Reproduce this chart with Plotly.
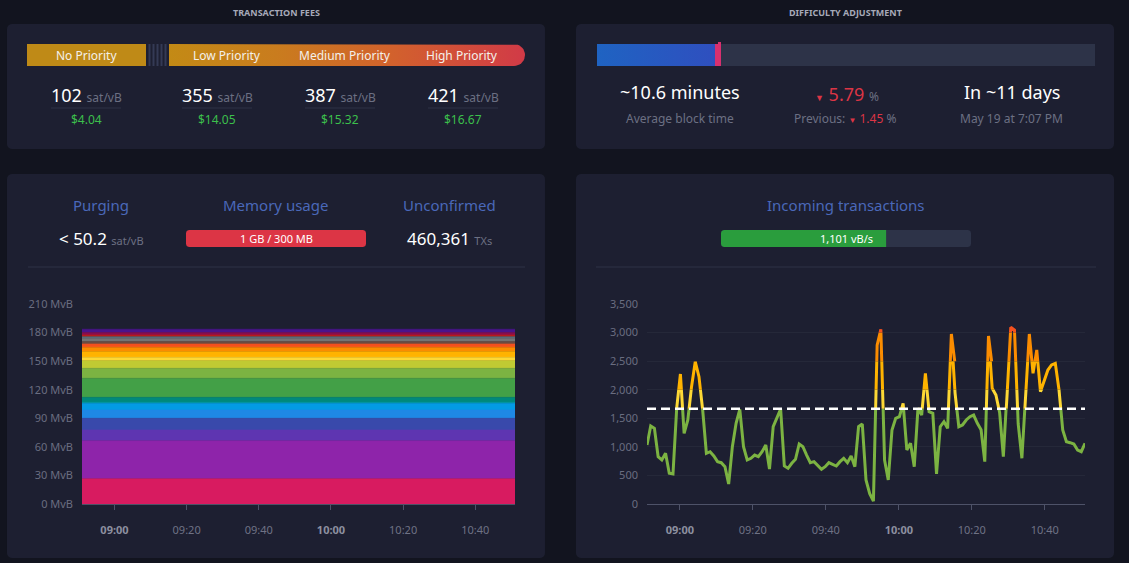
import numpy as np
import pandas as pd
import plotly.graph_objects as go

W, H = 1129, 563

# ---------------- data ----------------
fee_labels = ["No Priority", "Low Priority", "Medium Priority", "High Priority"]
fee_rates = [102, 355, 387, 421]
fee_usd = ["$4.04", "$14.05", "$15.32", "$16.67"]

avg_block_time = "~10.6 minutes"
diff_change = 5.79
prev_change = 1.45
next_adjust = "In ~11 days"
next_adjust_date = "May 19 at 7:07 PM"
epoch_progress = 0.239

purging_rate = 50.2
memory_text = "1 GB / 300 MB"
unconfirmed_txs = 460361
incoming_rate = 1101
incoming_target = 1667

time_start = "2023-05-08 08:51"
time_end = "2023-05-08 10:51"
x_tick_labels = ["09:00", "09:20", "09:40", "10:00", "10:20", "10:40"]
mvb_ticks = [0, 30, 60, 90, 120, 150, 180, 210]
vbs_ticks = [0, 500, 1000, 1500, 2000, 2500, 3000, 3500]

# mempool stacked layers (MvB per fee level)
layer_colors = ["#D81B60", "#8E24AA", "#5E35B1", "#3949AB", "#1E88E5", "#039BE5",
                "#00ACC1", "#00897B", "#43A047", "#7CB342", "#C0CA33", "#FDD835",
                "#FFB300", "#FB8C00", "#F4511E", "#6D4C41", "#757575", "#546E7A",
                "#B71C1C", "#880E4F", "#4A148C"]
layer_mvb = [26.6, 39.9, 11.2, 12.3, 8.7, 7.0, 1.0, 5.3, 20.0, 10.5, 8.0, 3.5,
             6.0, 4.6, 3.4, 2.5, 3.5, 1.7, 1.8, 2.5, 3.5]

# incoming transactions, vB/s
incoming_values = [
    1032, 1365, 1324, 828, 770, 887, 537, 525, 1674, 2275, 1237, 1470, 2053, 2490, 2228,
    1645, 887, 915, 840, 741, 723, 653, 350, 1003, 1412, 1657, 1003, 770, 800,
    857, 828, 915, 1032, 612, 1353, 1499, 1660, 665, 624, 712, 782, 1050, 1003, 857,
    723, 741, 665, 607, 653, 723, 694, 665, 741, 800, 723, 840, 653, 1353, 1400,
    420, 180, 50, 2780, 3057, 770, 420, 1295, 1499, 1528, 1762, 945, 1062, 653, 1674,
    1557, 2287, 1616, 1587, 525, 1353, 1441, 1324, 2975, 1937, 1353, 1383, 1470, 1528,
    1557, 1412, 1300,
    741, 2940, 2024, 1907, 1600, 828, 1900, 3092, 3045, 1400, 800, 1900, 2975, 2287,
    2695, 1966, 2170, 2345, 2433, 2462, 1995, 1295, 1091, 1073, 1050, 945, 915, 1062,
]

# colour pieces of the incoming line
band_edges = [-300, 1667, 2000, 2500, 3000, 3500, 3700]
band_colors = ["#7CB342", "#FDD835", "#FFB300", "#FB8C00", "#F4511E", "#D81B60"]

# ---------------- styling ----------------
FONT = "Noto Sans"
PAGE_BG = "#12141f"
PANEL_BG = "#1d1f31"
GREY = "#6c7083"
TITLE_BLUE = "#4a68b9"
RED = "#dc3545"
GREEN_TXT = "#3cbf4c"
BAR_BG = "#2d3348"
GRID = "#252839"
AXIS = "#4e5268"


def px(x):
    return x / W


def py(y):
    return 1 - y / H


fig = go.Figure()

# ---------- left chart: stacked mempool ----------
t_layers = pd.date_range(time_start, time_end, periods=2)
for c, v in zip(layer_colors, layer_mvb):
    fig.add_trace(go.Scatter(x=t_layers, y=[v, v], stackgroup="mem", mode="lines",
                             line=dict(width=0.6, color=c), fillcolor=c,
                             hoverinfo="skip", showlegend=False, xaxis="x", yaxis="y"))

# ---------- right chart: incoming tx ----------
tx = pd.date_range(time_start, time_end, periods=len(incoming_values))
fig.add_trace(go.Scatter(x=tx, y=incoming_values, mode="lines", line=dict(width=0),
                         opacity=0, hoverinfo="skip", showlegend=False,
                         xaxis="x2", yaxis="y2"))

Y0, Y1 = 504, 304  # pixel rows of the charts' value 0 and top
VMAX = 3500


def dom_incoming(v):
    return py(Y0) + v / VMAX * (py(Y1) - py(Y0))


n_bands = len(band_colors)
for i in range(n_bands):
    fig.add_trace(go.Scatter(x=tx, y=incoming_values, mode="lines",
                             line=dict(color=band_colors[i], width=3),
                             hoverinfo="skip", showlegend=False,
                             xaxis="x2", yaxis=f"y{3 + i}"))

CANVAS_Y = f"y{3 + n_bands}"
CANVAS_YAX = f"yaxis{3 + n_bands}"


def canvas_poly(xs, ys, color=None, gradient=None):
    kw = dict(x=xs, y=ys, mode="lines", fill="toself", line=dict(width=0),
              hoverinfo="skip", showlegend=False, xaxis="x3", yaxis=CANVAS_Y)
    if gradient is not None:
        kw["fillgradient"] = dict(type="horizontal", colorscale=gradient)
        kw["fillcolor"] = gradient[0][1]
    else:
        kw["fillcolor"] = color
    fig.add_trace(go.Scatter(**kw))


def rrect(x0, y0, x1, y1, rl=0.0, rr=0.0, n=10):
    pts = []

    def arc(cx, cy, r, a0, a1):
        for a in np.linspace(a0, a1, n):
            pts.append((cx + r * np.cos(a), cy + r * np.sin(a)))

    arc(x0 + rl, y0 + rl, rl, np.pi, 1.5 * np.pi)
    arc(x1 - rr, y0 + rr, rr, 1.5 * np.pi, 2 * np.pi)
    arc(x1 - rr, y1 - rr, rr, 0, 0.5 * np.pi)
    arc(x0 + rl, y1 - rl, rl, 0.5 * np.pi, np.pi)
    pts.append(pts[0])
    return [p[0] for p in pts], [p[1] for p in pts]


shapes = []
annotations = []


def panel_path(x0, y0, x1, y1, r=5):
    xs, ys = rrect(x0, y0, x1, y1, r, r, n=6)
    parts = [f"{px(a):.6f},{py(b):.6f}" for a, b in zip(xs, ys)]
    return "M " + " L ".join(parts) + " Z"


# panels (rounded cards)
for (x0, y0, x1, y1) in [(7, 24, 545, 149), (576, 24, 1114, 149),
                         (7, 174, 545, 558), (576, 174, 1114, 558)]:
    shapes.append(dict(type="path", xref="paper", yref="paper",
                       path=panel_path(x0, y0, x1, y1), fillcolor=PANEL_BG,
                       line=dict(width=0), layer="below"))


def ann(x, y, text, size=12, color="#ffffff", xanchor="center"):
    annotations.append(dict(x=px(x), y=py(y), xref="paper", yref="paper", text=text,
                            showarrow=False, xanchor=xanchor, yanchor="middle",
                            font=dict(family=FONT, size=size, color=color)))


def hline(x0, x1, y, color="#2e3247", width=1):
    shapes.append(dict(type="line", xref="paper", yref="paper", x0=px(x0), x1=px(x1),
                       y0=py(y), y1=py(y), line=dict(color=color, width=width)))


# ---------- top-left: transaction fees ----------
ann(276, 12, "<b>TRANSACTION FEES</b>", 9, "#a6a9b8")
xs, ys = rrect(27, 44, 146, 66)
canvas_poly(xs, ys, color="#bf8a17")
for sx in [149.5, 153.5, 157.5, 161.5, 165.5]:
    xs, ys = rrect(sx - 1, 44, sx + 1, 66)
    canvas_poly(xs, ys, color="#343a55")
xs, ys = rrect(169, 44, 525, 66, 0, 11)
canvas_poly(xs, ys, gradient=[[0, "#c38a15"], [0.3, "#c97c1e"], [0.62, "#d2622c"],
                              [1, "#d13a47"]])
fee_centers = [86, 217, 340, 463]
label_centers = [86, 227, 345, 462]
for lx, lab in zip(label_centers, fee_labels):
    ann(lx, 55, lab, 12, "#f4f0ea")
for cx, rate, usd in zip(fee_centers, fee_rates, fee_usd):
    ann(cx, 95, f"{rate} <span style='font-size:12px;color:{GREY}'>sat/vB</span>", 18)
    hline(cx - 35, cx + 35, 108)
    ann(cx, 120, usd, 12, GREEN_TXT)

# ---------- top-right: difficulty ----------
ann(846, 12, "<b>DIFFICULTY ADJUSTMENT</b>", 9, "#a6a9b8")
bx0, bx1 = 597, 1095
xs, ys = rrect(bx0, 44, bx1, 66)
canvas_poly(xs, ys, color=BAR_BG)
bprog = bx0 + epoch_progress * (bx1 - bx0)
xs, ys = rrect(bx0, 44, bprog, 66)
canvas_poly(xs, ys, gradient=[[0, "#1f63c2"], [1, "#2f4fbf"]])
xs, ys = rrect(bprog - 1, 44, bprog + 5, 66)
canvas_poly(xs, ys, color="#d8306f")
xs, ys = rrect(bprog + 2, 42, bprog + 5, 46)
canvas_poly(xs, ys, color="#d8306f")
ann(680, 92, avg_block_time, 18)
ann(680, 118, "Average block time", 12, GREY)
ann(847, 94, f"<span style='font-size:9px'>▼</span> {diff_change:.2f} "
             f"<span style='font-size:12px;color:{GREY}'>%</span>", 18, RED)
ann(845, 118, f"Previous: <span style='color:{RED}'><span style='font-size:8px'>▼</span> "
              f"{prev_change:.2f}</span> %", 12, GREY)
ann(1012, 92, next_adjust, 18)
ann(1012, 118, next_adjust_date, 12, GREY)

# ---------- bottom-left header ----------
ann(101, 205, "Purging", 15, TITLE_BLUE)
ann(275, 205, "Memory usage", 15, TITLE_BLUE)
ann(449, 205, "Unconfirmed", 15, TITLE_BLUE)
ann(102, 239, f"&lt; {purging_rate} <span style='font-size:11px;color:{GREY}'>sat/vB</span>", 17)
xs, ys = rrect(186, 230, 366, 247, 3, 3)
canvas_poly(xs, ys, color=RED)
ann(276, 239, memory_text, 11)
ann(450, 239, f"{unconfirmed_txs:,} <span style='font-size:11px;color:{GREY}'>TXs</span>", 17)
hline(28, 525, 267)

# ---------- bottom-right header ----------
ann(846, 205, "Incoming transactions", 15, TITLE_BLUE)
ix0, ix1 = 721, 971
xs, ys = rrect(ix0, 230, ix1, 247, 3, 3)
canvas_poly(xs, ys, color=BAR_BG)
ig = ix0 + min(incoming_rate / incoming_target, 1) * (ix1 - ix0)
xs, ys = rrect(ix0, 230, ig, 247, 3, 0)
canvas_poly(xs, ys, color="#2a9d3d")
ann(846, 239, f"{incoming_rate:,} vB/s", 11)
hline(596, 1096, 267)

# dashed target line on incoming chart
shapes.append(dict(type="line", xref="x2", yref="y2", x0=tx[0], x1=tx[-1],
                   y0=incoming_target, y1=incoming_target, layer="above",
                   line=dict(color="#ffffff", width=2.5, dash="9px,5px")))

# ---------- axes ----------
tick_times = [pd.Timestamp(f"2023-05-08 {t}") for t in x_tick_labels]
tick_text = [f"<b><span style='color:#8d90a0'>{t}</span></b>" if t.endswith(":00") else t
             for t in x_tick_labels]

xcommon = dict(type="date", showgrid=False, zeroline=False, showline=True,
               linecolor=AXIS, linewidth=1, ticks="outside", ticklen=5, tickcolor=AXIS,
               tickvals=tick_times, ticktext=tick_text, ticklabelstandoff=11,
               tickfont=dict(family=FONT, size=11, color="#6f7285"), fixedrange=True,
               automargin=False,
               range=[pd.Timestamp(time_start), pd.Timestamp(time_end)])
ycommon = dict(showgrid=True, gridcolor=GRID, gridwidth=1, zeroline=False,
               showline=False, ticks="", ticklabelstandoff=8, automargin=False,
               tickfont=dict(family=FONT, size=11, color="#6a6d80"), fixedrange=True)
hidden = dict(visible=False, showticklabels=False, showgrid=False, zeroline=False,
              automargin=False, fixedrange=True)

layout = dict(
    width=W, height=H, autosize=False,
    margin=dict(l=0, r=0, t=0, b=0, pad=0, autoexpand=False),
    paper_bgcolor=PAGE_BG, plot_bgcolor="rgba(0,0,0,0)",
    showlegend=False, shapes=shapes, annotations=annotations,
    xaxis=dict(domain=[px(82), px(515)], anchor="y", **xcommon),
    yaxis=dict(domain=[py(Y0), py(Y1)], anchor="x", range=[0, 210],
               tickvals=mvb_ticks, ticktext=[f"{v} MvB" for v in mvb_ticks], **ycommon),
    xaxis2=dict(domain=[px(647), px(1085)], anchor="y2", **xcommon),
    yaxis2=dict(domain=[py(Y0), py(Y1)], anchor="x2", range=[0, VMAX],
                tickvals=vbs_ticks, tickformat=",", **ycommon),
    xaxis3=dict(domain=[0, 1], range=[0, W], anchor=CANVAS_Y, **hidden),
)
layout[CANVAS_YAX] = dict(domain=[0, 1], range=[H, 0], anchor="x3", **hidden)
for i in range(n_bands):
    lo, hi = band_edges[i], band_edges[i + 1]
    layout[f"yaxis{3 + i}"] = dict(domain=[dom_incoming(lo), dom_incoming(hi)],
                                   range=[lo, hi], anchor="x2", **hidden)

fig.update_layout(**layout)

page_fix = (
    "document.documentElement.style.margin='0';"
    "document.body.style.margin='0';document.body.style.padding='0';"
    "document.body.style.overflow='hidden';"
    f"document.body.style.background='{PAGE_BG}';"
)
fig.write_html("out.html", config={"displayModeBar": False}, post_script=page_fix)
